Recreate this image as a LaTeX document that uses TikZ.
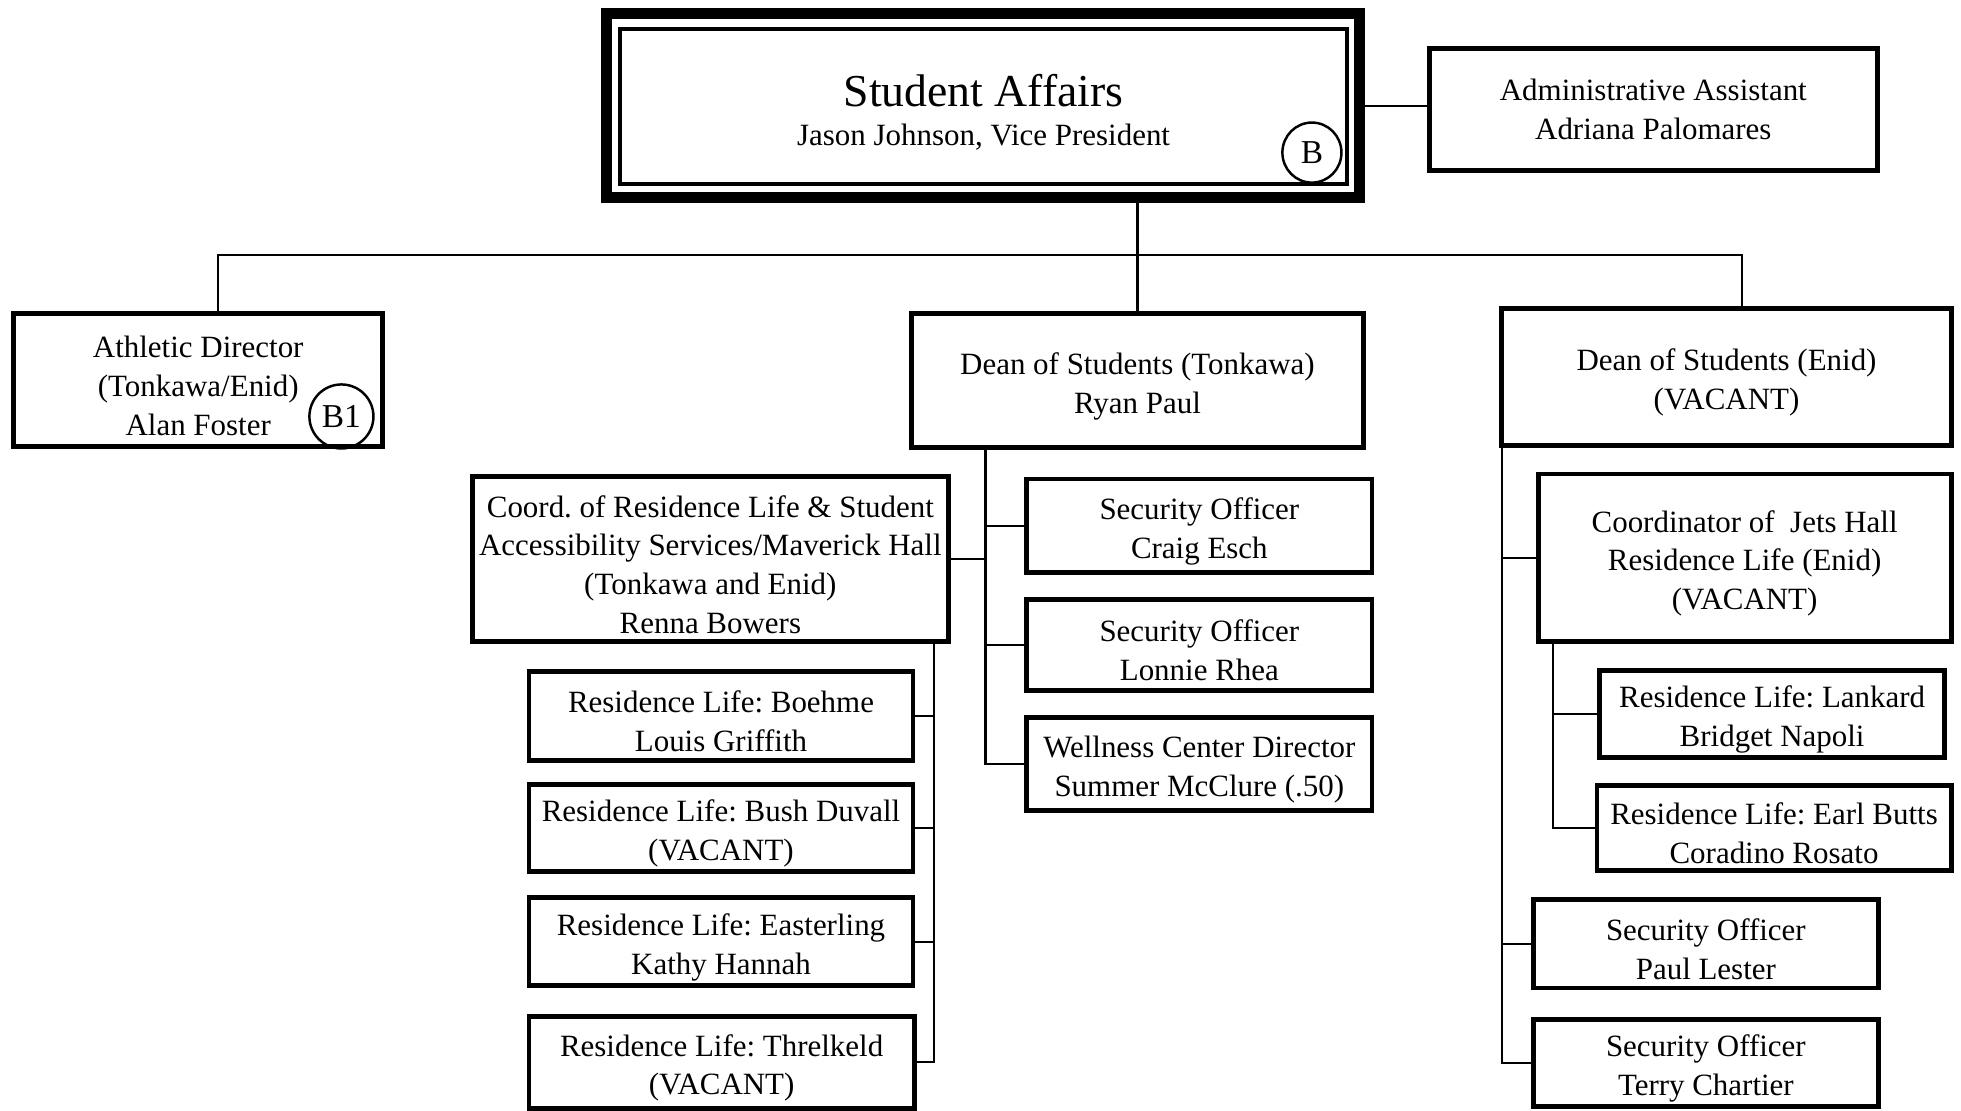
\documentclass[tikz,border=0pt]{standalone}
\usepackage{fontspec}
\setmainfont{Liberation Serif}
\usetikzlibrary{shapes.geometric}
\newcommand\tpad{\rule{0pt}{9.3pt}}
\begin{document}
\frenchspacing
\begin{tikzpicture}[x=0.0125cm,y=-0.0125cm,
  box/.style={draw, line width=1.4pt, inner sep=0pt, outer sep=0pt, align=center, font=\fontsize{8.8}{11}\selectfont\frenchspacing},
  conn/.style={line width=0.6pt},
  tag/.style={draw, line width=0.7pt, inner sep=0pt, font=\fontsize{9.5}{11}\selectfont}]
\useasboundingbox[fill=white] (0,0) rectangle (1568,888);
% top
\node[draw, line width=3pt, inner sep=0pt, outer sep=0pt, minimum width=7.525cm, minimum height=1.8375cm] (sa) at (786,84.5) {};
\node[draw, line width=1pt, inner sep=0pt, outer sep=0pt, minimum width=7.2625cm, minimum height=1.55cm, align=center] (sain) at (786.5,85)
  {{\fontsize{13}{15}\selectfont\rule{0pt}{12.5pt}Student Affairs}\\[-1pt]{\fontsize{8.8}{11}\selectfont Jason Johnson, Vice President}};
\node[tag, ellipse, minimum width=0.59cm, minimum height=0.6cm] (tb) at (1049,122) {B};
\node[box, minimum width=4.475cm, minimum height=1.2125cm] (adm) at (1322,87.5) {Administrative Assistant\\Adriana Palomares};
% level 2
\node[box, minimum width=3.6875cm, minimum height=1.325cm] (ath) at (158.5,304) {\tpad Athletic Director\\(Tonkawa/Enid)\\Alan Foster};
\node[tag, circle, minimum size=0.64cm] (tb1) at (273,333) {B1};
\node[box, minimum width=4.5125cm, minimum height=1.3375cm] (deant) at (909.5,304.5) {\tpad Dean of Students (Tonkawa)\\Ryan Paul};
\node[box, minimum width=4.4875cm, minimum height=1.3625cm] (deane) at (1380.5,301.5) {\tpad Dean of Students (Enid)\\(VACANT)};
% Tonkawa
\node[box, minimum width=4.75cm, minimum height=1.65cm] (coord) at (568,447) {\tpad Coord. of Residence Life \& Student\\Accessibility Services/Maverick Hall\\(Tonkawa and Enid)\\Renna Bowers};
\node[box, minimum width=3.45cm, minimum height=0.9375cm] (craig) at (959,420.5) {\tpad Security Officer\\Craig Esch};
\node[box, minimum width=3.45cm, minimum height=0.9125cm] (lonnie) at (959,515.5) {\tpad Security Officer\\Lonnie Rhea};
\node[box, minimum width=3.45cm, minimum height=0.925cm] (well) at (959,611) {\tpad Wellness Center Director\\Summer McClure (.50)};
\node[box, minimum width=3.8375cm, minimum height=0.8875cm] (boeh) at (576.5,572.5) {\tpad Residence Life: Boehme\\Louis Griffith};
\node[box, minimum width=3.8375cm, minimum height=0.875cm] (bush) at (576.5,662) {\tpad Residence Life: Bush Duvall\\(VACANT)};
\node[box, minimum width=3.8375cm, minimum height=0.875cm] (east) at (576.5,753) {\tpad Residence Life: Easterling\\Kathy Hannah};
\node[box, minimum width=3.85cm, minimum height=0.9125cm] (thr) at (577,849.5) {\tpad Residence Life: Threlkeld\\(VACANT)};
% Enid
\node[box, minimum width=4.125cm, minimum height=1.675cm] (jets) at (1395,446) {\tpad Coordinator of ~Jets Hall\\Residence Life (Enid)\\(VACANT)};
\node[box, minimum width=3.45cm, minimum height=0.875cm] (lank) at (1417,571) {\tpad Residence Life: Lankard\\Bridget Napoli};
\node[box, minimum width=3.5375cm, minimum height=0.85cm] (earl) at (1418.5,662) {\tpad Residence Life: Earl Butts\\Coradino Rosato};
\node[box, minimum width=3.45cm, minimum height=0.8875cm] (paul) at (1364,754.5) {\tpad Security Officer\\Paul Lester};
\node[box, minimum width=3.45cm, minimum height=0.875cm] (terry) at (1364,850) {\tpad Security Officer\\Terry Chartier};
% connectors
\coordinate (bus) at (0,204);
\coordinate (tt) at (788,0);
\coordinate (ct) at (747,0);
\coordinate (jt) at (1242,0);
\draw[conn] (sa.east) -- (sa.east -| adm.west);
\draw[conn] (deant.north |- sa.south) -- (deant.north);
\draw[conn] ([xshift=0.2cm]ath.north) -- ([xshift=0.2cm]ath.north |- bus) -- ([xshift=0.155cm]deane.north |- bus) -- ([xshift=0.155cm]deane.north);
\draw[conn] (deant.south -| tt) -- (well.west -| tt) -- (well.west);
\draw[conn] (coord.east) -- (coord.east -| tt);
\draw[conn] (craig.west -| tt) -- (craig.west);
\draw[conn] (lonnie.west -| tt) -- (lonnie.west);
\draw[conn] (coord.south -| ct) -- (thr.east -| ct) -- (thr.east);
\draw[conn] (boeh.east) -- (boeh.east -| ct);
\draw[conn] (bush.east) -- (bush.east -| ct);
\draw[conn] (east.east) -- (east.east -| ct);
\draw[conn] (deane.south west) -- (terry.west -| deane.south west) -- (terry.west);
\draw[conn] (jets.west -| deane.south west) -- (jets.west);
\draw[conn] (paul.west -| deane.south west) -- (paul.west);
\draw[conn] (jets.south -| jt) -- (earl.west -| jt) -- (earl.west);
\draw[conn] (lank.west -| jt) -- (lank.west);
\end{tikzpicture}
\end{document}
